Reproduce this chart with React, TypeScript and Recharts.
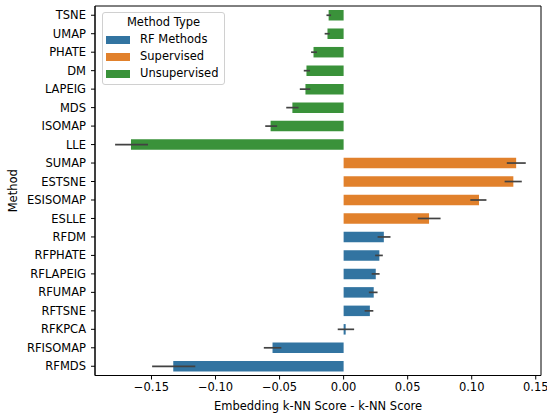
import { BarChart, Bar, XAxis, YAxis, Cell, ErrorBar, ReferenceArea } from "recharts";

const methods = [
  "TSNE", "UMAP", "PHATE", "DM", "LAPEIG", "MDS", "ISOMAP", "LLE",
  "SUMAP", "ESTSNE", "ESISOMAP", "ESLLE",
  "RFDM", "RFPHATE", "RFLAPEIG", "RFUMAP", "RFTSNE", "RFKPCA", "RFISOMAP", "RFMDS",
];
const methodTypes = [
  "Unsupervised", "Unsupervised", "Unsupervised", "Unsupervised", "Unsupervised", "Unsupervised", "Unsupervised", "Unsupervised",
  "Supervised", "Supervised", "Supervised", "Supervised",
  "RF Methods", "RF Methods", "RF Methods", "RF Methods", "RF Methods", "RF Methods", "RF Methods", "RF Methods",
];
// mean score difference, plus the low / high ends of the error bars
const scores = [
  -0.0117, -0.0126, -0.0235, -0.029, -0.0298, -0.04, -0.057, -0.166,
  0.1347, 0.1325, 0.1057, 0.0667,
  0.0314, 0.0279, 0.0251, 0.0235, 0.0205, 0.0016, -0.0555, -0.133,
];
const errLow = [
  -0.0134, -0.0148, -0.0254, -0.0311, -0.0342, -0.0448, -0.0612, -0.1784,
  0.1274, 0.1257, 0.0989, 0.0579,
  0.0265, 0.0246, 0.0219, 0.0197, 0.0164, -0.0046, -0.0623, -0.1495,
];
const errHigh = [
  -0.0098, -0.0109, -0.0208, -0.0262, -0.026, -0.0352, -0.0519, -0.1527,
  0.1422, 0.1391, 0.1115, 0.0757,
  0.0366, 0.0306, 0.0281, 0.0265, 0.0232, 0.0082, -0.0486, -0.1158,
];
const xTicks = [-0.15, -0.1, -0.05, 0, 0.05, 0.1, 0.15];
const legendTypes = ["RF Methods", "Supervised", "Unsupervised"];

const COLORS: Record<string, string> = {
  "RF Methods": "#3274a1",
  Supervised: "#e1812c",
  Unsupervised: "#3a923a",
};
const FONT = "DejaVu Sans, sans-serif";
const FS = 11.5;
const X_DOMAIN = [-0.1941, 0.1541];

const data = methods.map((m, i) => ({
  method: m,
  type: methodTypes[i],
  score: scores[i],
  err: [scores[i] - errLow[i], errHigh[i] - scores[i]],
}));

const fmt = (v: number) => (v < 0 ? "\u2212" : "") + Math.abs(v).toFixed(2);

function LegendBox() {
  return (
    <div
      style={{
        position: "absolute",
        left: 102,
        top: 12,
        width: 123,
        height: 73,
        border: "1px solid #d0d0d0",
        borderRadius: 3,
        background: "rgba(255,255,255,0.8)",
        fontFamily: FONT,
        fontSize: FS,
        color: "#000",
        boxSizing: "border-box",
      }}
    >
      <div style={{ position: "absolute", top: 2, width: "100%", textAlign: "center", lineHeight: "14px" }}>
        Method Type
      </div>
      {legendTypes.map((t, i) => (
        <div key={t}>
          <div
            style={{
              position: "absolute",
              left: 3,
              top: 23 + i * 17,
              width: 24,
              height: 8,
              background: COLORS[t],
            }}
          />
          <div style={{ position: "absolute", left: 37, top: 19 + i * 17, lineHeight: "14px", whiteSpace: "nowrap" }}>
            {t}
          </div>
        </div>
      ))}
    </div>
  );
}

export default function App() {
  return (
    <div style={{ position: "absolute", left: 0, top: 0, width: 547, height: 413, background: "#fff" }}>
      <BarChart
        width={547}
        height={413}
        data={data}
        layout="vertical"
        margin={{ top: 6, right: 6, bottom: 0, left: 0 }}
        barSize={10.5}
      >
        <XAxis
          type="number"
          dataKey="score"
          domain={X_DOMAIN}
          ticks={xTicks}
          tickFormatter={fmt}
          height={37.5}
          allowDataOverflow
          tick={{ fill: "#000", fontSize: FS, fontFamily: FONT }}
          tickLine={{ stroke: "#000" }}
          axisLine={{ stroke: "#000" }}
          tickSize={4}
          tickMargin={3}
          label={{
            value: "Embedding k-NN Score - k-NN Score",
            position: "insideBottom",
            offset: 3,
            fill: "#000",
            fontSize: FS,
            fontFamily: FONT,
          }}
        />
        <YAxis
          type="category"
          dataKey="method"
          width={95}
          interval={0}
          tick={{ fill: "#000", fontSize: FS, fontFamily: FONT }}
          tickLine={{ stroke: "#000" }}
          axisLine={{ stroke: "#000" }}
          tickSize={4}
          tickMargin={5}
          label={({ viewBox }: any) => (
            <text
              x={13}
              y={viewBox.y + viewBox.height / 2}
              transform={`rotate(-90, 13, ${viewBox.y + viewBox.height / 2})`}
              textAnchor="middle"
              dominantBaseline="central"
              fontSize={FS}
              fontFamily={FONT}
              fill="#000"
            >
              Method
            </text>
          )}
        />
        {/* frame around the plot area (top and right spines) */}
        <ReferenceArea
          x1={X_DOMAIN[0]}
          x2={X_DOMAIN[1]}
          fill="none"
          fillOpacity={0}
          stroke="#000"
          strokeWidth={1}
          ifOverflow="visible"
        />
        <Bar dataKey="score" isAnimationActive={false}>
          {data.map((d) => (
            <Cell key={d.method} fill={COLORS[d.type]} />
          ))}
          <ErrorBar dataKey="err" direction="x" width={0} stroke="#424242" strokeWidth={1.7} />
        </Bar>
      </BarChart>
      <LegendBox />
    </div>
  );
}
